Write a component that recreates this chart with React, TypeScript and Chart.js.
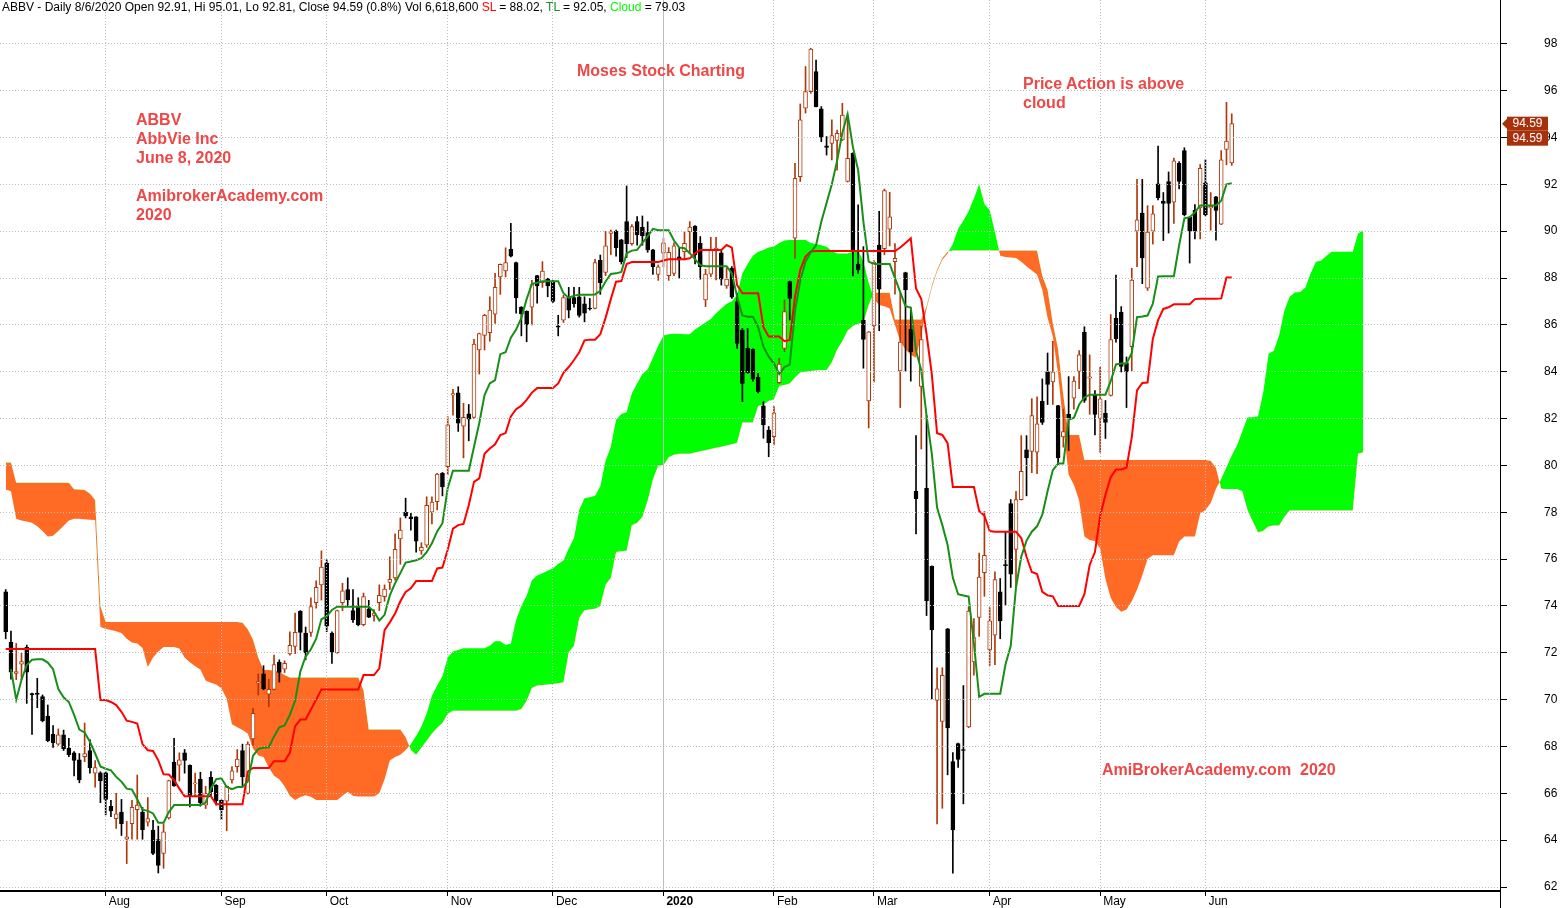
import React, { useEffect, useRef } from 'react';
import { Chart, registerables } from 'chart.js';
Chart.register(...registerables);

// ---------- DATA ----------
// bar index 0 = first visible trading day (early July 2019), 233 = 8 Jun 2020
const openP = [
  74.6, 72.46, 71.12, 71.51, 72.23, 70.26, 70.28, 70.13, 69.3, 68.52, // 0
  68.1, 68.5, 67.93, 67.73, 67.43, 67.56, 67.83, 66.86, 66.88, 66.88, // 10
  65.45, 64.92, 65.2, 64.04, 64.7, 65.3, 65.2, 64.77, 64.43, 64.03, // 20
  63.43, 64.95, 67.33, 67.2, 67.73, 67.2, 66.4, 66.6, 65.49, 66.68, // 30
  66.35, 65.7, 65.66, 66.57, 67.14, 67.83, 66.0, 68.32, 70.7, 71.1, // 40
  70.23, 70.44, 71.6, 71.3, 71.95, 72.27, 73.78, 72.84, 72.87, 74.14, // 50
  74.9, 75.83, 72.84, 72.0, 74.14, 74.7, 73.8, 74.0, 73.2, 73.88, // 60
  73.6, 74.14, 74.4, 75.0, 75.2, 76.86, 78.0, 77.8, 77.8, 76.35, // 70
  76.6, 78.0, 78.45, 79.66, 79.95, 83.0, 83.1, 81.68, 82.2, 82.05, // 80
  84.93, 85.55, 85.67, 86.46, 88.05, 88.3, 89.23, 88.66, 86.76, 86.58, // 90
  86.76, 88.1, 87.8, 87.97, 87.83, 85.95, 86.2, 87.2, 87.17, 87.2, // 100
  86.9, 86.72, 86.7, 88.76, 88.24, 89.9, 89.99, 89.63, 90.41, 89.47, // 110
  90.41, 90.17, 89.94, 89.2, 88.15, 89.06, 88.1, 88.2, 88.91, 89.13, // 120
  89.98, 90.22, 89.48, 87.06, 88.16, 89.2, 89.08, 87.66, 88.42, 86.99, // 130
  85.78, 85.0, 84.96, 83.76, 82.54, 81.51, 81.23, 83.53, 85.0, 87.85, // 140
  89.7, 92.33, 95.25, 95.96, 96.81, 95.22, 93.64, 93.75, 93.87, 93.9, // 150
  92.12, 93.33, 88.6, 86.2, 82.75, 85.95, 89.41, 89.25, 90.09, 88.7, // 160
  84.03, 88.23, 85.81, 78.89, 83.37, 79.02, 75.69, 69.97, 69.07, 73.02, // 170
  67.36, 68.12, 67.87, 68.83, 71.61, 73.51, 75.42, 72.12, 72.75, 74.6, // 180
  75.77, 78.37, 76.41, 78.54, 80.66, 80.6, 80.56, 82.74, 84.0, 83.56, // 190
  82.55, 81.22, 82.18, 82.87, 84.01, 85.69, 83.72, 82.99, 81.99, 82.22, // 200
  82.99, 86.29, 86.54, 84.38, 85.07, 90.0, 90.77, 87.57, 90.0, 92.02, // 210
  91.28, 92.12, 91.24, 92.9, 93.44, 90.6, 90.89, 90.99, 92.06, 90.99, // 220
  91.47, 90.3, 93.49, 92.91 // 230
];
const highP = [
  74.7, 72.93, 72.4, 71.98, 72.33, 70.28, 70.91, 70.2, 69.77, 68.89,
  68.75, 68.7, 68.35, 67.78, 67.7, 69.0, 68.3, 67.4, 66.92, 66.92,
  65.7, 66.0, 65.74, 64.8, 65.7, 66.78, 65.4, 65.82, 64.85, 64.6,
  64.7, 66.56, 68.35, 67.73, 67.87, 67.22, 66.86, 66.9, 66.3, 66.93,
  66.37, 65.72, 66.32, 67.14, 67.87, 68.1, 68.2, 69.63, 71.1, 71.45,
  70.87, 71.9, 71.7, 71.66, 72.9, 73.7, 73.8, 73.1, 74.35, 75.07,
  76.35, 75.97, 72.9, 73.82, 74.97, 75.2, 74.7, 74.35, 74.55, 74.24,
  73.85, 74.9, 74.9, 76.1, 77.08, 77.76, 78.6, 77.95, 77.82, 76.7,
  78.66, 78.66, 79.66, 79.7, 82.08, 83.25, 83.36, 82.65, 82.6, 85.38,
  85.65, 86.45, 87.2, 88.2, 88.6, 89.29, 90.33, 88.68, 86.78, 86.6,
  87.9, 88.12, 88.7, 87.99, 87.9, 86.41, 87.27, 87.6, 87.6, 87.6,
  87.2, 87.13, 88.8, 88.98, 89.99, 90.05, 90.05, 89.65, 91.93, 90.28,
  90.62, 90.65, 90.4, 89.22, 88.56, 89.7, 89.3, 89.5, 89.3, 89.98,
  90.41, 90.24, 89.77, 88.37, 89.74, 89.74, 89.2, 88.42, 88.49, 87.35,
  85.85, 85.85, 84.98, 83.93, 82.72, 81.66, 82.51, 84.57, 87.06, 87.87,
  92.9, 95.43, 97.03, 97.81, 97.31, 95.32, 94.04, 94.75, 94.32, 95.46,
  94.89, 93.35, 91.12, 89.34, 85.72, 88.75, 90.85, 91.8, 91.66, 89.47,
  87.37, 88.25, 86.7, 81.27, 85.94, 82.13, 75.71, 71.36, 71.36, 73.04,
  67.74, 68.14, 70.6, 73.97, 73.46, 76.26, 78.03, 73.93, 75.46, 75.17,
  77.17, 78.54, 78.89, 81.27, 81.27, 82.85, 82.93, 83.69, 84.8, 85.3,
  82.57, 82.4, 83.79, 83.79, 84.9, 85.92, 84.72, 83.2, 84.19, 82.77,
  86.44, 88.13, 86.78, 84.63, 88.42, 92.21, 92.21, 91.09, 91.09, 93.63,
  91.65, 92.53, 93.12, 92.97, 93.56, 90.62, 91.14, 92.85, 93.05, 91.65,
  91.49, 93.44, 95.5, 95.01
];
const lowP = [
  72.6, 70.87, 70.85, 70.85, 69.84, 68.52, 69.66, 69.05, 68.2, 67.96,
  68.05, 67.83, 67.56, 66.74, 66.45, 67.35, 66.86, 66.26, 65.6, 65.08,
  65.0, 64.5, 64.2, 63.0, 64.04, 64.04, 64.04, 64.6, 63.38, 62.6,
  62.8, 64.9, 66.3, 66.53, 66.86, 65.42, 65.9, 65.45, 65.35, 65.9,
  65.5, 64.88, 64.4, 66.43, 66.9, 66.3, 65.97, 68.06, 70.2, 70.42,
  69.7, 70.42, 70.75, 71.16, 71.9, 71.96, 72.12, 71.7, 72.7, 73.9,
  74.25, 72.9, 71.55, 71.98, 73.8, 74.0, 73.3, 73.15, 73.15, 73.5,
  73.35, 73.8, 74.2, 74.7, 75.1, 75.78, 77.76, 77.24, 76.3, 76.2,
  76.5, 77.5, 78.1, 78.7, 79.6, 82.15, 81.45, 80.32, 81.05, 82.0,
  83.9, 84.93, 85.3, 86.06, 87.3, 88.05, 88.9, 86.5, 85.53, 85.28,
  86.0, 86.93, 87.6, 87.2, 86.96, 85.53, 86.1, 86.3, 86.76, 86.33,
  86.13, 86.63, 86.68, 87.3, 88.1, 89.0, 88.93, 88.6, 88.87, 89.4,
  89.4, 89.4, 89.1, 88.15, 87.9, 88.48, 87.9, 88.1, 88.0, 88.77,
  89.06, 88.6, 87.95, 86.78, 88.06, 87.92, 87.7, 87.56, 87.13, 85.0,
  82.72, 83.93, 83.6, 83.1, 81.16, 80.37, 80.87, 83.5, 84.86, 86.21,
  88.84, 92.12, 95.04, 95.89, 95.3, 93.82, 93.25, 93.04, 92.61, 93.87,
  92.1, 88.09, 88.2, 84.15, 81.6, 83.56, 85.75, 88.99, 89.37, 87.31,
  82.47, 84.03, 83.6, 77.08, 80.7, 73.59, 70.03, 64.69, 65.36, 66.79,
  62.59, 67.11, 65.55, 68.8, 71.04, 72.7, 74.41, 71.46, 71.49, 72.6,
  74.03, 74.79, 74.79, 78.52, 78.7, 79.69, 79.65, 81.75, 82.6, 82.6,
  80.03, 80.78, 80.64, 82.4, 83.28, 82.69, 82.18, 81.3, 80.56, 81.15,
  82.96, 85.26, 83.99, 82.47, 84.04, 88.49, 87.76, 87.47, 89.45, 91.33,
  89.6, 89.92, 90.33, 91.8, 90.65, 88.64, 89.67, 89.67, 90.65, 90.04,
  89.62, 90.28, 92.83, 92.81
];
const closeP = [
  72.9, 71.17, 71.2, 71.62, 71.17, 70.2, 70.22, 69.1, 68.25, 68.16,
  68.5, 67.9, 67.65, 67.4, 66.57, 67.7, 67.1, 67.1, 66.54, 65.74,
  65.25, 65.13, 64.7, 64.14, 65.4, 65.5, 64.45, 64.92, 63.43, 62.92,
  64.36, 66.54, 66.33, 67.43, 67.4, 65.9, 66.45, 65.6, 66.0, 66.07,
  65.68, 65.3, 66.3, 66.96, 67.46, 66.7, 68.1, 69.42, 70.77, 70.46,
  70.44, 71.5, 71.16, 71.55, 72.32, 72.87, 72.87, 72.0, 73.97, 74.8,
  75.66, 73.15, 72.05, 73.8, 74.65, 74.26, 73.4, 73.2, 74.4, 73.52,
  73.7, 74.45, 74.72, 75.14, 76.42, 77.24, 77.84, 77.73, 76.77, 76.5,
  78.3, 78.43, 79.63, 79.08, 81.73, 83.07, 81.8, 82.05, 81.97, 85.18,
  85.63, 86.41, 86.63, 87.6, 88.58, 88.66, 88.93, 87.15, 86.48, 86.0,
  87.72, 87.66, 88.3, 87.66, 87.0, 85.9, 87.17, 86.63, 86.9, 86.4,
  86.5, 86.68, 88.66, 87.8, 89.37, 90.0, 89.3, 88.7, 89.47, 90.2,
  89.84, 89.8, 89.2, 88.48, 88.48, 89.5, 89.1, 89.37, 88.77, 89.48,
  90.17, 88.99, 88.49, 88.17, 89.2, 89.27, 87.95, 87.95, 87.18, 85.21,
  83.5, 83.96, 83.68, 83.15, 81.73, 80.97, 82.25, 84.33, 86.57, 87.13,
  92.26, 94.75, 95.96, 97.77, 95.32, 94.01, 93.58, 94.08, 94.18, 94.96,
  93.11, 89.13, 88.35, 85.38, 85.7, 88.68, 87.52, 91.73, 90.61, 88.84,
  85.27, 87.5, 84.85, 78.58, 85.37, 74.22, 72.98, 70.46, 71.04, 68.79,
  64.44, 67.45, 67.83, 73.78, 72.65, 75.23, 76.16, 73.36, 75.13, 73.36,
  75.72, 75.36, 78.54, 79.75, 80.32, 82.13, 81.78, 81.84, 83.46, 84.0,
  80.32, 81.44, 82.03, 83.6, 84.72, 82.77, 83.78, 82.18, 82.84, 81.84,
  85.37, 85.41, 84.23, 83.99, 87.91, 90.48, 88.86, 89.96, 90.74, 91.43,
  91.18, 91.18, 93.0, 92.12, 90.7, 90.0, 90.0, 92.68, 90.7, 91.06,
  90.89, 93.05, 93.85, 94.59
];
// TL (turning line, green)
const tenkan = [
  null, 71.3, 70.0, 70.84, 71.48, 71.7, 71.72, 71.72, 71.58, 71.3,
  70.45, 70.1, 69.9, 69.35, 68.72, 68.6, 68.2, 67.7, 67.15, 67.05,
  66.98, 66.7, 66.5, 66.2, 66.16, 65.75, 65.3, 65.25, 65.14, 64.74,
  64.74, 65.2, 65.5, 65.5, 65.5, 65.5, 65.5, 65.5, 65.6, 66.2,
  66.6, 66.64, 66.27, 66.18, 66.27, 66.27, 66.5, 67.6, 67.9, 67.95,
  67.97, 68.43, 68.82, 68.9, 69.35, 69.95, 71.2, 71.84, 72.15, 72.6,
  73.43, 73.55, 73.83, 73.97, 73.97, 73.97, 73.97, 73.97, 73.97, 73.97,
  73.76, 73.38, 73.62, 74.45, 74.97, 75.4, 75.85, 75.9, 75.95, 76.04,
  76.3, 76.68, 77.18, 77.53, 79.03, 79.77, 79.77, 79.77, 79.77, 80.8,
  81.81, 83.0, 83.5, 83.64, 84.75, 84.83, 85.45, 85.8, 86.3, 87.1,
  87.75, 87.8, 87.86, 87.86, 87.86, 87.86, 87.35, 87.15, 87.25, 87.29,
  87.29, 87.29, 87.3, 87.45, 87.85, 88.17, 88.2, 88.26, 89.05, 89.17,
  89.2, 89.5, 89.78, 90.1, 90.04, 90.04, 90.04, 89.6, 89.3, 89.27,
  89.06, 88.8, 88.55, 88.5, 88.5, 88.5, 88.5, 88.5, 88.2, 87.2,
  86.4, 86.35, 86.35, 85.9, 85.07, 84.64, 84.36, 83.9, 84.2, 84.3,
  86.6, 87.9, 88.7, 89.1, 89.4, 90.4, 91.2, 92.0, 93.0, 94.2,
  95.0, 93.6, 92.6, 90.4, 88.7, 88.6, 88.6, 88.6, 88.6, 88.0,
  87.4, 86.8, 86.74, 84.9, 84.05, 82.13, 80.5, 78.2, 77.45, 76.6,
  75.2, 74.5, 74.45, 74.4, 72.4, 70.12, 70.25, 70.25, 70.25, 70.25,
  71.5, 72.3, 74.8, 76.1, 76.79, 77.17, 77.4, 77.9, 78.9, 79.8,
  80.08, 80.08, 81.96, 82.03, 82.6, 82.9, 83.02, 83.02, 83.02, 83.02,
  83.6, 84.31, 84.35, 84.35, 84.8, 86.33, 86.36, 86.4, 86.9, 88.07,
  88.08, 88.08, 88.08, 89.4, 90.55, 90.6, 90.8, 91.1, 91.1, 91.1,
  91.1, 91.3, 92.0, 92.05
];
// SL (standard line, red)
const kijun = [
  72.16, 72.16, 72.16, 72.16, 72.16, 72.16, 72.16, 72.16, 72.16, 72.16,
  72.16, 72.16, 72.16, 72.16, 72.16, 72.16, 72.16, 72.16, 69.98, 69.98,
  69.9, 69.77, 69.48, 69.1, 69.05, 68.98, 68.1, 67.84, 67.81, 67.41,
  66.81, 66.8, 66.56, 66.2, 65.88, 65.88, 65.88, 65.88, 65.88, 65.88,
  65.53, 65.53, 65.53, 65.53, 65.53, 65.53, 66.93, 67.08, 67.08, 67.08,
  67.08, 67.37, 67.37, 67.37, 67.73, 68.87, 69.15, 69.15, 69.58, 70.0,
  70.43, 70.43, 70.43, 70.43, 70.43, 70.43, 70.43, 70.43, 71.05, 71.05,
  71.05, 71.34, 72.97, 73.3, 73.68, 74.2, 74.6, 74.75, 75.06, 75.06,
  75.06, 75.06, 75.6, 75.64, 76.4, 77.3, 77.45, 77.5, 78.3, 79.3,
  79.45, 80.5, 80.72, 80.9, 81.3, 81.38, 82.09, 82.4, 82.55, 82.8,
  83.11, 83.3, 83.3, 83.3, 83.3, 83.5, 83.95, 84.2, 84.5, 84.83,
  85.34, 85.37, 85.37, 85.6, 86.3, 87.1, 87.84, 87.87, 88.6, 88.68,
  88.68, 88.68, 88.68, 88.68, 88.68, 88.75, 88.8, 88.8, 88.8, 88.8,
  88.84, 89.06, 89.2, 89.2, 89.2, 89.2, 89.2, 89.41, 89.3, 87.7,
  87.35, 87.35, 87.35, 87.35, 85.9, 85.5, 85.5, 85.5, 85.3, 85.36,
  87.2, 88.35, 88.92, 89.13, 89.15, 89.15, 89.15, 89.15, 89.15, 89.15,
  89.15, 89.15, 89.15, 89.15, 89.15, 89.15, 89.15, 89.15, 89.15, 89.15,
  89.3, 89.5, 89.7, 87.55, 87.1, 85.6, 83.9, 81.37, 81.3, 80.95,
  79.08, 79.08, 79.08, 79.08, 79.08, 78.05, 77.85, 77.2, 77.17, 77.17,
  77.17, 77.17, 77.17, 76.9, 76.1, 75.45, 75.36, 74.6, 74.45, 74.41,
  74.0, 74.0, 74.0, 74.0, 74.0, 74.5, 75.75, 76.3, 77.85, 78.75,
  79.5, 79.83, 79.83, 79.9, 81.2, 83.2, 83.52, 83.54, 85.4, 86.2,
  86.68, 86.75, 86.88, 86.88, 86.88, 86.88, 87.1, 87.12, 87.12, 87.12,
  87.12, 87.13, 88.02, 88.02
];
// cloud edges, plotted 26 bars ahead (index 0..258)
const spanA = [
  78.97, 78.9, 77.72, 77.65, 77.6, 77.55, 77.4, 77.2, 76.96, 77.0,
  77.2, 77.42, 77.65, 77.72, 77.72, 77.7, 77.68, 77.67, 73.1, 73.03,
  72.97, 72.92, 72.85, 72.6, 72.44, 72.4, 72.2, 71.39, 71.8, 72.05,
  72.25, 72.25, 72.25, 72.18, 71.8, 71.6, 71.43, 71.29, 70.82, 70.72,
  70.65, 70.49, 70.04, 68.95, 68.82, 68.7, 68.55, 67.9, 67.62, 67.55,
  67.1, 66.75, 66.6, 66.3, 65.9, 65.72, 65.84, 65.92, 65.85, 65.72,
  65.71, 65.71, 65.71, 65.71, 65.9, 66.07, 65.9, 65.86, 65.86, 65.86,
  65.86, 66.0, 66.6, 67.4, 67.55, 67.65, 67.85, 68.1, 68.45, 68.85,
  69.4, 70.17, 70.6, 71.0, 71.8, 72.05, 72.12, 72.19, 72.19, 72.19,
  72.19, 72.19, 72.3, 72.49, 72.49, 72.33, 72.4, 73.4, 74.0, 74.44,
  75.1, 75.3, 75.4, 75.5, 75.6, 75.8, 75.94, 76.45, 76.9, 78.1,
  78.6, 78.64, 78.7, 79.1, 80.2, 80.8, 81.95, 82.2, 82.27, 83.08,
  83.5, 83.9, 84.1, 84.6, 85.1, 85.55, 85.6, 85.62, 85.62, 85.6,
  85.6, 85.8, 85.95, 86.1, 86.25, 86.5, 86.7, 86.9, 87.0, 87.3,
  88.2, 88.6, 88.95, 89.12, 89.2, 89.3, 89.35, 89.5, 89.6, 89.62,
  89.62, 89.62, 89.62, 89.5, 89.45, 89.4, 89.34, 89.15, 89.05, 89.05,
  89.05, 89.12, 89.2, 88.7, 87.8, 87.1, 86.85, 86.8, 86.7, 86.0,
  85.3, 84.95, 84.72, 84.6, 85.6, 86.7, 87.6, 88.28, 88.78, 89.05,
  89.45, 90.1, 90.45, 90.85, 91.4, 92.0, 91.15, 90.9, 89.95, 88.95,
  88.9, 88.88, 88.85, 88.7, 88.5, 88.32, 88.15, 87.5, 86.3, 85.5,
  83.9, 81.7, 79.6, 79.17, 78.5, 76.97, 76.82, 76.77, 76.45, 75.15,
  74.35, 73.95, 73.75, 73.85, 74.2, 74.7, 75.3, 76.0, 76.16, 76.16,
  76.16, 76.16, 76.16, 76.75, 76.97, 76.97, 76.97, 77.95, 78.1, 78.4,
  79.0, 79.42, 79.92, 80.42, 80.85, 81.45, 82.06, 82.06, 82.1, 83.13,
  84.77, 84.9, 85.55, 86.6, 87.2, 87.38, 87.4, 87.6, 88.2, 88.69,
  88.75, 88.95, 89.12, 89.12, 89.12, 89.12, 89.12, 89.9, 90.04
];
const spanB = [
  80.12, 80.12, 79.26, 79.26, 79.26, 79.26, 79.26, 79.26, 79.26, 79.26,
  79.26, 79.26, 79.26, 78.98, 78.97, 78.95, 78.8, 78.52, 74.0, 73.31,
  73.31, 73.31, 73.31, 73.31, 73.31, 73.31, 73.31, 73.31, 73.31, 73.31,
  73.31, 73.31, 73.31, 73.31, 73.31, 73.31, 73.31, 73.31, 73.31, 73.31,
  73.31, 73.31, 73.31, 73.31, 73.31, 73.28, 73.0, 72.57, 71.8, 71.26,
  71.26, 71.24, 71.19, 71.05, 70.95, 70.95, 70.95, 70.95, 70.95, 70.95,
  70.95, 70.95, 70.95, 70.95, 70.95, 70.95, 70.95, 70.95, 70.4, 68.73,
  68.72, 68.72, 68.72, 68.72, 68.72, 68.72, 68.4, 67.85, 67.65, 67.95,
  68.25, 68.55, 68.8, 69.0, 69.4, 69.53, 69.53, 69.53, 69.53, 69.53,
  69.53, 69.53, 69.53, 69.53, 69.53, 69.53, 69.53, 69.53, 69.6, 69.95,
  70.5, 70.6, 70.62, 70.65, 70.67, 70.7, 70.74, 72.02, 72.3, 73.5,
  73.82, 73.85, 73.88, 74.0, 74.9, 75.2, 76.3, 76.33, 76.36, 77.45,
  77.55, 77.8, 78.5, 79.4, 79.99, 80.02, 80.35, 80.45, 80.5, 80.5,
  80.5, 80.55, 80.6, 80.65, 80.7, 80.75, 80.8, 80.85, 80.9, 80.97,
  81.83, 81.83, 81.83, 82.54, 82.6, 82.75, 82.82, 83.39, 83.43, 83.5,
  83.75, 83.97, 84.0, 84.03, 84.05, 84.07, 84.07, 84.4, 84.95, 85.3,
  85.75, 85.95, 86.05, 86.1, 86.85, 87.37, 87.37, 87.37, 87.37, 86.23,
  86.23, 86.23, 86.23, 86.23, 86.23, 86.8, 87.68, 88.35, 88.85, 89.12,
  89.18, 89.18, 89.18, 89.18, 89.18, 89.18, 89.18, 89.18, 89.18, 89.18,
  89.18, 89.18, 89.18, 89.18, 89.18, 89.18, 89.18, 88.1, 87.5, 86.07,
  84.97, 83.0, 81.3, 81.3, 81.3, 80.23, 80.23, 80.23, 80.23, 80.23,
  80.23, 80.23, 80.23, 80.23, 80.23, 80.23, 80.23, 80.23, 80.23, 80.23,
  80.23, 80.23, 80.23, 80.23, 80.23, 80.23, 80.23, 80.23, 80.23, 80.2,
  79.9, 79.0, 78.99, 78.99, 78.99, 78.9, 78.1, 77.6, 77.14, 77.21,
  77.4, 77.43, 77.43, 77.8, 78.07, 78.07, 78.07, 78.07, 78.07, 78.07,
  78.07, 78.07, 78.07, 78.07, 78.07, 78.07, 78.07, 80.5, 80.56
];
const monthTickIdx = [19, 41, 61, 84, 104, 125, 146, 165, 187, 208, 228];
const monthTickLabels = ['Aug', 'Sep', 'Oct', 'Nov', 'Dec', '2020', 'Feb', 'Mar', 'Apr', 'May', 'Jun'];
const yTickValues = [62, 64, 66, 68, 70, 72, 74, 76, 78, 80, 82, 84, 86, 88, 90, 92, 94, 96, 98];
const volumeText = '6,618,600';
const cloudValueText = '79.03';

// ---------- STYLE ----------
const FONT = '"Liberation Sans", Arial, sans-serif';
const BROWN = '#B0380A';
const ORANGE = '#FF6A24';
const CLOUD_GREEN = '#00FF00';
const TL_GREEN = '#178F17';
const SL_RED = '#FF0000';
const NOTE_RED = '#EE4747';
const TAG_RED = '#A8300A';
const GRID = '#BDBDBD';
const NONE = 'rgba(0,0,0,0)';

const last = closeP.length - 1;

const priceTagPlugin = {
  id: 'priceTag',
  afterDraw(chart: any) {
    const c = chart.ctx;
    const area = chart.chartArea;
    const y = chart.scales.y.getPixelForValue(closeP[last]);
    const x0 = area.right;
    const txt = closeP[last].toFixed(2);
    c.save();
    // axis line continues below the date axis
    c.strokeStyle = '#000000';
    c.lineWidth = 1;
    c.beginPath();
    c.moveTo(Math.round(x0) + 0.5, area.bottom);
    c.lineTo(Math.round(x0) + 0.5, chart.height);
    c.stroke();
    c.fillStyle = TAG_RED;
    c.beginPath();
    c.moveTo(x0 + 2, y);
    c.lineTo(x0 + 8, y - 6);
    c.lineTo(x0 + 8, y + 6);
    c.closePath();
    c.fill();
    c.fillRect(x0 + 7, y - 7, 41, 14);
    c.fillRect(x0 + 7, y + 7, 41, 15);
    c.fillStyle = '#FFFFFF';
    c.font = '12px ' + FONT;
    c.textAlign = 'center';
    c.textBaseline = 'middle';
    c.fillText(txt, x0 + 27.5, y + 0.5);
    c.fillText(txt, x0 + 27.5, y + 15);
    c.restore();
  }
};

const notes = [
  { x: 136, y: 110, lines: ['ABBV', 'AbbVie Inc', 'June 8, 2020'] },
  { x: 136, y: 186, lines: ['AmibrokerAcademy.com', '2020'] },
  { x: 577, y: 61, lines: ['Moses Stock Charting'] },
  { x: 1023, y: 74, lines: ['Price Action is above', 'cloud'] },
  { x: 1102, y: 760, lines: ['AmiBrokerAcademy.com  2020'] }
];

export default function App() {
  const ref = useRef<HTMLCanvasElement>(null);

  useEffect(() => {
    document.body.style.margin = '0';
    const canvas = ref.current;
    if (!canvas) return;
    const up = closeP.map((c, i) => c >= openP[i]);
    const chart = new Chart(canvas, {
      type: 'line',
      data: {
        datasets: [
          {
            type: 'line',
            label: 'SpanA',
            data: spanA.map((v, i) => ({ x: i, y: v })),
            borderColor: NONE,
            borderWidth: 0,
            pointRadius: 0,
            tension: 0,
            fill: { target: 1, above: CLOUD_GREEN, below: ORANGE },
            order: 10
          } as any,
          {
            type: 'line',
            label: 'SpanB',
            data: spanB.map((v, i) => ({ x: i, y: v })),
            borderColor: NONE,
            borderWidth: 0,
            pointRadius: 0,
            tension: 0,
            fill: false,
            order: 11
          } as any,
          {
            type: 'bar',
            label: 'wick',
            data: highP.map((h, i) => ({ x: i, y: [lowP[i], h] })),
            backgroundColor: up.map(u => (u ? BROWN : '#000000')),
            borderWidth: 0,
            barThickness: 1,
            grouped: false,
            order: 5
          } as any,
          {
            type: 'bar',
            label: 'body',
            data: openP.map((o, i) => ({ x: i, y: [o, closeP[i]] })),
            backgroundColor: up.map(u => (u ? '#FFFFFF' : '#000000')),
            borderColor: up.map(u => (u ? BROWN : '#000000')),
            borderWidth: 1,
            borderSkipped: false,
            barThickness: 4,
            grouped: false,
            order: 4
          } as any,
          {
            type: 'line',
            label: 'SL',
            data: kijun.map((v, i) => ({ x: i, y: v })),
            borderColor: SL_RED,
            borderWidth: 2,
            pointRadius: 0,
            tension: 0,
            fill: false,
            order: 2
          } as any,
          {
            type: 'line',
            label: 'TL',
            data: tenkan.map((v, i) => ({ x: i, y: v })),
            borderColor: TL_GREEN,
            borderWidth: 2,
            pointRadius: 0,
            tension: 0,
            fill: false,
            order: 1
          } as any
        ]
      },
      options: {
        responsive: false,
        maintainAspectRatio: false,
        animation: false,
        devicePixelRatio: 1,
        events: [],
        layout: { padding: { left: 0, right: 4, top: 0, bottom: 0 }, autoPadding: false },
        plugins: {
          legend: { display: false },
          tooltip: { enabled: false },
          title: { display: false }
        },
        scales: {
          x: {
            type: 'linear',
            min: -1.083,
            max: 283.98,
            offset: false,
            afterBuildTicks: (s: any) => {
              s.ticks = monthTickIdx.map(v => ({ value: v }));
            },
            afterFit: (s: any) => {
              s.height = 17;
              s.paddingLeft = 0;
              s.paddingRight = 0;
              s.paddingTop = 0;
              s.paddingBottom = 0;
            },
            ticks: {
              autoSkip: false,
              maxRotation: 0,
              minRotation: 0,
              align: 'start',
              labelOffset: 3,
              padding: -2,
              color: '#000000',
              font: (ctx: any) => ({
                family: FONT,
                size: 12,
                weight: ctx.tick && ctx.tick.value === 125 ? 'bold' : 'normal'
              }),
              callback: (v: any) => {
                const k = monthTickIdx.indexOf(Number(v));
                return k >= 0 ? monthTickLabels[k] : '';
              }
            },
            grid: {
              color: GRID,
              lineWidth: 1,
              offset: false,
              drawTicks: true,
              tickLength: 5,
              tickColor: '#000000',
              tickWidth: 1,
              z: 1
            },
            border: {
              display: true,
              color: '#000000',
              width: 2,
              z: 2,
              dash: (ctx: any) => (ctx.tick && ctx.tick.value === 125 ? [] : [1, 2])
            }
          } as any,
          y: {
            type: 'linear',
            position: 'right',
            min: 61.83,
            max: 99.87,
            afterBuildTicks: (s: any) => {
              s.ticks = yTickValues.map(v => ({ value: v }));
            },
            afterFit: (s: any) => {
              s.width = 57;
              s.paddingTop = 0;
              s.paddingBottom = 0;
              s.paddingLeft = 0;
              s.paddingRight = 0;
            },
            ticks: {
              padding: 37,
              color: '#000000',
              font: { family: FONT, size: 12 },
              callback: (v: any) => String(v)
            },
            grid: {
              color: GRID,
              lineWidth: 1,
              drawTicks: true,
              tickLength: 7,
              tickColor: '#000000',
              tickWidth: 1,
              z: 1
            },
            border: { display: true, color: '#000000', width: 1, z: 2, dash: [1, 2] }
          } as any
        }
      } as any,
      plugins: [priceTagPlugin]
    });
    return () => chart.destroy();
  }, []);

  return (
    <div style={{ position: 'relative', width: 1561, height: 908, background: '#FFFFFF', overflow: 'hidden' }}>
      <canvas ref={ref} width={1561} height={908} style={{ position: 'absolute', left: 0, top: 0, width: 1561, height: 908 }} />
      <div
        style={{
          position: 'absolute',
          left: 2,
          top: 0,
          font: '12px ' + FONT,
          lineHeight: '14px',
          whiteSpace: 'pre',
          color: '#000000'
        }}
      >
        {`ABBV - Daily 8/6/2020 Open ${openP[last].toFixed(2)}, Hi ${highP[last].toFixed(2)}, Lo ${lowP[last].toFixed(2)}, Close ${closeP[last].toFixed(2)} (${(((closeP[last] - closeP[last - 1]) / closeP[last - 1]) * 100).toFixed(1)}%) Vol ${volumeText} `}
        <span style={{ color: SL_RED }}>SL</span>
        {` = ${kijun[last].toFixed(2)}, `}
        <span style={{ color: TL_GREEN }}>TL</span>
        {` = ${(tenkan[last] as number).toFixed(2)}, `}
        <span style={{ color: CLOUD_GREEN }}>Cloud</span>
        {` = ${cloudValueText}`}
      </div>
      {notes.map((n, k) => (
        <div
          key={k}
          style={{
            position: 'absolute',
            left: n.x,
            top: n.y,
            font: 'bold 16px ' + FONT,
            lineHeight: '19px',
            color: NOTE_RED,
            whiteSpace: 'pre',
            pointerEvents: 'none'
          }}
        >
          {n.lines.map((l, j) => (
            <div key={j}>{l}</div>
          ))}
        </div>
      ))}
    </div>
  );
}
